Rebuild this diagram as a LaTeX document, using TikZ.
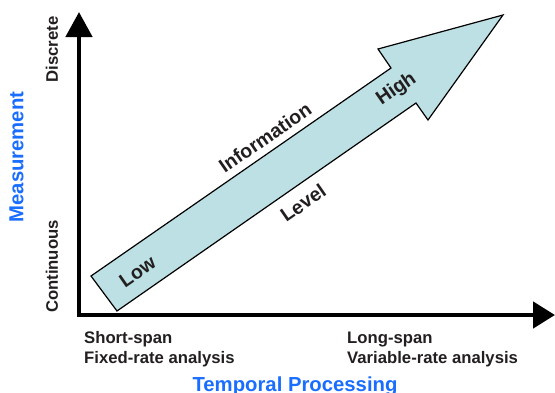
\documentclass[tikz,border=0pt]{standalone}
\usepackage{fontspec}
\setmainfont{Liberation Sans}
\usetikzlibrary{arrows.meta}
\definecolor{txt}{HTML}{231F20}
\definecolor{ttlblue}{HTML}{1A6EFF}
\definecolor{arrfill}{HTML}{BCE0E3}
\begin{document}
\begin{tikzpicture}[x=1pt,y=-1pt,
  lbl/.style={inner sep=0pt,text=txt,font=\fontsize{16.7}{20}\selectfont\bfseries},
  ttl/.style={inner sep=0pt,text=ttlblue,font=\fontsize{20.3}{24}\selectfont\bfseries},
  big/.style={inner sep=0pt,text=txt,rotate=34.7,font=\fontsize{19.5}{23}\selectfont\bfseries},
  axis/.style={line width=4.7pt,line join=miter,
    {Triangle[length=25pt,width=26pt]}-{Triangle[length=22pt,width=26pt]}}]
\useasboundingbox (0,0) rectangle (555,392);
% big arrow
\draw[fill=arrfill,line width=1.2pt,line join=miter]
  (117,311) -- (91,276) -- (391,68) -- (378,49) -- (503,15) -- (428,120) -- (416,103) -- cycle;
% axes
\coordinate (ytop) at (79,12);
\coordinate (origin) at (79,315);
\coordinate (xend) at (555,315);
\draw[axis] (ytop) -- (origin) -- (xend);
% arrow texts
\node[big] (info) at (265,137.5) {Information};
\node[big] (level) at (303,203) {Level};
\node[big] (high) at (396.5,89.5) {High};
\node[big] (low) at (137.5,272) {Low};
% axis labels
\node[lbl,rotate=90] (disc) at (52,49.5) {Discrete};
\node[lbl,rotate=90] (cont) at (52,266.5) {Continuous};
\node[ttl,rotate=90] (meas) at (16.5,157) {Measurement};
\node[lbl,anchor=base west] (ss) at (84,343) {Short-span};
\node[lbl,anchor=base west] (fr) at (84,363) {Fixed-rate analysis};
\node[lbl,anchor=base west] (ls) at (347,343) {Long-span};
\node[lbl,anchor=base west] (vr) at (347,363) {Variable-rate analysis};
\node[ttl,anchor=base] (temp) at (295,391.5) {Temporal Processing};
\end{tikzpicture}
\end{document}
